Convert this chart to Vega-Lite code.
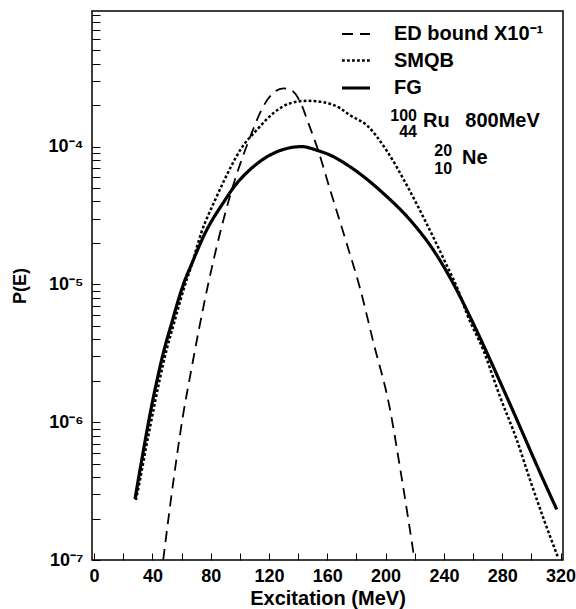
{
  "$schema": "https://vega.github.io/schema/vega-lite/v6.json",
  "width": 471,
  "height": 549,
  "autosize": {"type": "none"},
  "padding": {"left": 92, "top": 11, "right": 13, "bottom": 49},
  "background": "white",
  "config": {
    "view": {"stroke": "black", "strokeWidth": 1.5},
    "font": "Liberation Sans",
    "axis": {
      "labelFont": "Liberation Sans", "labelFontWeight": "bold", "labelColor": "black",
      "titleFont": "Liberation Sans", "titleFontWeight": "bold", "titleColor": "black",
      "grid": false
    },
    "axisX": {"ticks": true, "tickSize": 7, "tickColor": "black", "offset": -7, "labelPadding": 7, "domain": false, "titlePadding": 3},
    "axisY": {"ticks": true, "tickSize": 8, "tickColor": "black", "offset": -8, "labelPadding": 9, "domain": false, "titlePadding": 19},
    "text": {"font": "Liberation Sans", "fontWeight": "bold", "color": "black"}
  },
  "resolve": {"axis": {"x": "independent", "y": "independent"}},
  "layer": [
    {
      "data": {"values": [
        {"series": "ED bound X10⁻¹", "E": 47.4, "P": 1.0e-7},
        {"series": "ED bound X10⁻¹", "E": 54.5, "P": 3.80e-7},
        {"series": "ED bound X10⁻¹", "E": 61.0, "P": 1.12e-6},
        {"series": "ED bound X10⁻¹", "E": 65.8, "P": 2.14e-6},
        {"series": "ED bound X10⁻¹", "E": 78.4, "P": 1.02e-5},
        {"series": "ED bound X10⁻¹", "E": 93.2, "P": 4.37e-5},
        {"series": "ED bound X10⁻¹", "E": 107.0, "P": 1.17e-4},
        {"series": "ED bound X10⁻¹", "E": 117.3, "P": 2.06e-4},
        {"series": "ED bound X10⁻¹", "E": 124.1, "P": 2.51e-4},
        {"series": "ED bound X10⁻¹", "E": 129.8, "P": 2.65e-4},
        {"series": "ED bound X10⁻¹", "E": 135.6, "P": 2.55e-4},
        {"series": "ED bound X10⁻¹", "E": 141.3, "P": 2.12e-4},
        {"series": "ED bound X10⁻¹", "E": 147.0, "P": 1.48e-4},
        {"series": "ED bound X10⁻¹", "E": 153.5, "P": 9.55e-5},
        {"series": "ED bound X10⁻¹", "E": 161.8, "P": 4.91e-5},
        {"series": "ED bound X10⁻¹", "E": 164.1, "P": 4.09e-5},
        {"series": "ED bound X10⁻¹", "E": 173.3, "P": 1.98e-5},
        {"series": "ED bound X10⁻¹", "E": 182.5, "P": 9.33e-6},
        {"series": "ED bound X10⁻¹", "E": 191.6, "P": 3.80e-6},
        {"series": "ED bound X10⁻¹", "E": 202.5, "P": 1.32e-6},
        {"series": "ED bound X10⁻¹", "E": 210.5, "P": 4.27e-7},
        {"series": "ED bound X10⁻¹", "E": 219.5, "P": 1.06e-7},
        {"series": "SMQB", "E": 28.7, "P": 2.72e-7},
        {"series": "SMQB", "E": 31.5, "P": 3.81e-7},
        {"series": "SMQB", "E": 35.3, "P": 6.28e-7},
        {"series": "SMQB", "E": 38.9, "P": 9.82e-7},
        {"series": "SMQB", "E": 42.1, "P": 1.45e-6},
        {"series": "SMQB", "E": 44.9, "P": 2.02e-6},
        {"series": "SMQB", "E": 49.7, "P": 3.34e-6},
        {"series": "SMQB", "E": 54.8, "P": 5.22e-6},
        {"series": "SMQB", "E": 59.3, "P": 7.71e-6},
        {"series": "SMQB", "E": 63.5, "P": 1.08e-5},
        {"series": "SMQB", "E": 66.5, "P": 1.34e-5},
        {"series": "SMQB", "E": 73.4, "P": 2.35e-5},
        {"series": "SMQB", "E": 83.0, "P": 4.09e-5},
        {"series": "SMQB", "E": 93.9, "P": 7.14e-5},
        {"series": "SMQB", "E": 100.2, "P": 9.44e-5},
        {"series": "SMQB", "E": 111.6, "P": 1.32e-4},
        {"series": "SMQB", "E": 123.0, "P": 1.75e-4},
        {"series": "SMQB", "E": 134.4, "P": 2.06e-4},
        {"series": "SMQB", "E": 145.9, "P": 2.15e-4},
        {"series": "SMQB", "E": 157.3, "P": 2.10e-4},
        {"series": "SMQB", "E": 168.7, "P": 1.90e-4},
        {"series": "SMQB", "E": 175.6, "P": 1.69e-4},
        {"series": "SMQB", "E": 187.0, "P": 1.43e-4},
        {"series": "SMQB", "E": 200.8, "P": 9.33e-5},
        {"series": "SMQB", "E": 214.5, "P": 5.25e-5},
        {"series": "SMQB", "E": 228.2, "P": 2.75e-5},
        {"series": "SMQB", "E": 239.6, "P": 1.55e-5},
        {"series": "SMQB", "E": 251.0, "P": 8.41e-6},
        {"series": "SMQB", "E": 255.6, "P": 6.17e-6},
        {"series": "SMQB", "E": 267.0, "P": 3.34e-6},
        {"series": "SMQB", "E": 278.5, "P": 1.53e-6},
        {"series": "SMQB", "E": 290.0, "P": 7.43e-7},
        {"series": "SMQB", "E": 299.1, "P": 3.81e-7},
        {"series": "SMQB", "E": 308.7, "P": 1.95e-7},
        {"series": "SMQB", "E": 318.5, "P": 1.03e-7},
        {"series": "FG", "E": 28.1, "P": 2.77e-7},
        {"series": "FG", "E": 30.3, "P": 3.81e-7},
        {"series": "FG", "E": 33.9, "P": 6.28e-7},
        {"series": "FG", "E": 37.2, "P": 9.82e-7},
        {"series": "FG", "E": 40.3, "P": 1.45e-6},
        {"series": "FG", "E": 43.2, "P": 2.02e-6},
        {"series": "FG", "E": 48.0, "P": 3.34e-6},
        {"series": "FG", "E": 53.2, "P": 5.22e-6},
        {"series": "FG", "E": 57.8, "P": 7.71e-6},
        {"series": "FG", "E": 62.4, "P": 1.08e-5},
        {"series": "FG", "E": 66.1, "P": 1.34e-5},
        {"series": "FG", "E": 76.1, "P": 2.35e-5},
        {"series": "FG", "E": 89.8, "P": 4.09e-5},
        {"series": "FG", "E": 94.4, "P": 4.84e-5},
        {"series": "FG", "E": 109.2, "P": 7.14e-5},
        {"series": "FG", "E": 123.0, "P": 8.93e-5},
        {"series": "FG", "E": 142.4, "P": 1.0e-4},
        {"series": "FG", "E": 153.8, "P": 9.33e-5},
        {"series": "FG", "E": 161.8, "P": 8.69e-5},
        {"series": "FG", "E": 175.6, "P": 7.14e-5},
        {"series": "FG", "E": 198.4, "P": 4.58e-5},
        {"series": "FG", "E": 216.7, "P": 2.94e-5},
        {"series": "FG", "E": 232.7, "P": 1.78e-5},
        {"series": "FG", "E": 248.8, "P": 9.10e-6},
        {"series": "FG", "E": 257.9, "P": 5.83e-6},
        {"series": "FG", "E": 283.1, "P": 1.53e-6},
        {"series": "FG", "E": 308.2, "P": 3.81e-7},
        {"series": "FG", "E": 317.4, "P": 2.33e-7}
      ]},
      "mark": {"type": "line", "interpolate": "monotone", "color": "black", "clip": true},
      "encoding": {
        "x": {
          "field": "E", "type": "quantitative",
          "scale": {"domain": [-1.44, 321.7], "nice": false, "zero": false},
          "axis": {
            "title": "Excitation (MeV)", "titleFontSize": 20, "titlePadding": 3,
            "values": [0, 20, 40, 60, 80, 100, 120, 140, 160, 180, 200, 220, 240, 260, 280, 300, 320],
            "labelExpr": "datum.value % 40 == 0 ? datum.label : ''",
            "labelFontSize": 18, "labelPadding": 7,
            "domain": false, "ticks": true, "offset": -7, "tickSize": 7, "tickColor": "black"
          }
        },
        "y": {
          "field": "P", "type": "quantitative",
          "scale": {"type": "log", "domain": [1e-7, 9.64e-4], "nice": false},
          "axis": {
            "title": "P(E)", "titleFontSize": 18, "titlePadding": 19,
            "values": [1e-7, 2e-7, 3e-7, 4e-7, 5e-7, 6e-7, 7e-7, 8e-7, 9e-7,
                       1e-6, 2e-6, 3e-6, 4e-6, 5e-6, 6e-6, 7e-6, 8e-6, 9e-6,
                       1e-5, 2e-5, 3e-5, 4e-5, 5e-5, 6e-5, 7e-5, 8e-5, 9e-5,
                       1e-4, 2e-4, 3e-4, 4e-4, 5e-4, 6e-4, 7e-4, 8e-4, 9e-4],
            "labelExpr": "datum.value == 1e-7 ? '10⁻⁷' : datum.value == 1e-6 ? '10⁻⁶' : datum.value == 1e-5 ? '10⁻⁵' : datum.value == 1e-4 ? '10⁻⁴' : ''",
            "labelFontSize": 18, "labelPadding": 9,
            "domain": false, "ticks": true, "offset": -8, "tickSize": 8, "tickColor": "black"
          }
        },
        "strokeDash": {
          "field": "series", "type": "nominal",
          "scale": {"domain": ["ED bound X10⁻¹", "SMQB", "FG"], "range": [[11, 7], [2.8, 2.2], [1, 0]]},
          "legend": {
            "orient": "none", "legendX": 248, "legendY": 8, "title": null,
            "symbolType": "stroke", "symbolSize": 784, "symbolStrokeColor": "black",
            "labelFont": "Liberation Sans", "labelFontWeight": "bold", "labelFontSize": 20,
            "labelColor": "black", "labelOffset": 22, "rowPadding": 1, "padding": 0, "labelLimit": 300
          }
        },
        "strokeWidth": {
          "field": "series", "type": "nominal",
          "scale": {"domain": ["ED bound X10⁻¹", "SMQB", "FG"], "range": [1.8, 3.2, 1.3]},
          "legend": {
            "orient": "none", "legendX": 248, "legendY": 8, "title": null,
            "symbolType": "stroke", "symbolSize": 784, "symbolStrokeColor": "black",
            "labelFont": "Liberation Sans", "labelFontWeight": "bold", "labelFontSize": 20,
            "labelColor": "black", "labelOffset": 22, "rowPadding": 1, "padding": 0, "labelLimit": 300
          }
        }
      }
    },
    {
      "data": {"values": [{}]},
      "mark": {"type": "text", "text": "100", "align": "right", "baseline": "middle", "fontSize": 16},
      "encoding": {"x": {"datum": 221.5, "type": "quantitative", "axis": null}, "y": {"datum": 1.67e-4, "type": "quantitative", "axis": null}}
    },
    {
      "data": {"values": [{}]},
      "mark": {"type": "text", "text": "44", "align": "right", "baseline": "middle", "fontSize": 16},
      "encoding": {"x": {"datum": 221.5, "type": "quantitative", "axis": null}, "y": {"datum": 1.28e-4, "type": "quantitative", "axis": null}}
    },
    {
      "data": {"values": [{}]},
      "mark": {"type": "text", "text": "Ru\u2002 800MeV", "align": "left", "baseline": "middle", "fontSize": 20},
      "encoding": {"x": {"datum": 225.7, "type": "quantitative", "axis": null}, "y": {"datum": 1.53e-4, "type": "quantitative", "axis": null}}
    },
    {
      "data": {"values": [{}]},
      "mark": {"type": "text", "text": "20", "align": "right", "baseline": "middle", "fontSize": 16},
      "encoding": {"x": {"datum": 245.6, "type": "quantitative", "axis": null}, "y": {"datum": 9.29e-5, "type": "quantitative", "axis": null}}
    },
    {
      "data": {"values": [{}]},
      "mark": {"type": "text", "text": "10", "align": "right", "baseline": "middle", "fontSize": 16},
      "encoding": {"x": {"datum": 245.6, "type": "quantitative", "axis": null}, "y": {"datum": 6.87e-5, "type": "quantitative", "axis": null}}
    },
    {
      "data": {"values": [{}]},
      "mark": {"type": "text", "text": "Ne", "align": "left", "baseline": "middle", "fontSize": 20},
      "encoding": {"x": {"datum": 252.4, "type": "quantitative", "axis": null}, "y": {"datum": 8.26e-5, "type": "quantitative", "axis": null}}
    }
  ]
}
